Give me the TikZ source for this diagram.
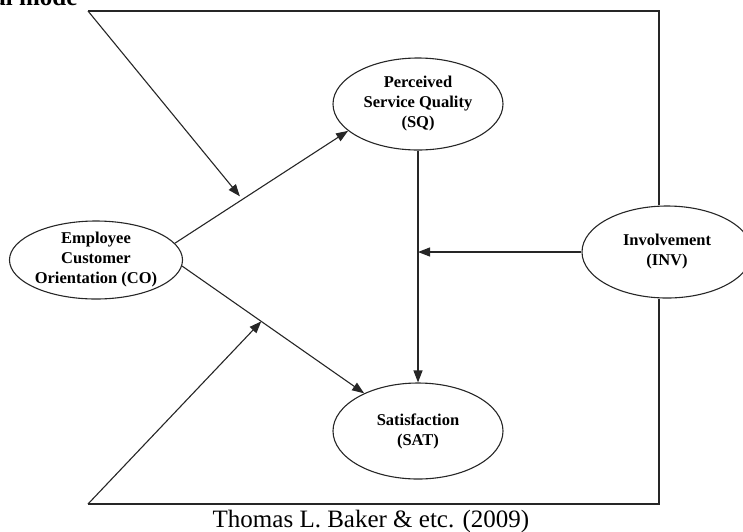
\documentclass[tikz,border=0pt]{standalone}
\usepackage{fontspec}
\setmainfont{Liberation Serif}
\usetikzlibrary{shapes.geometric, arrows.meta, calc}

\begin{document}
\begin{tikzpicture}[
  x=1pt, y=-1pt,
  construct/.style={ellipse, draw=black!85, line width=1.1pt, inner sep=0pt, align=center, font=\fontsize{16.5}{20}\selectfont\bfseries},
  arrow/.style={-{Triangle[length=12pt, width=9pt]}, line width=1.1pt, draw=black!85},
  frame/.style={line width=1.1pt, draw=black!85},
  caption/.style={font=\fontsize{25}{28}\selectfont}
]
\useasboundingbox (0,0) rectangle (743,531);

% Constructs
\node[construct, minimum width=172, minimum height=78] (co) at (96,260) {Employee\\Customer\\Orientation (CO)};
\node[construct, minimum width=170, minimum height=92] (sq) at (418,104) {Perceived\\Service Quality\\(SQ)};
\node[construct, minimum width=170, minimum height=96] (sat) at (418,431) {Satisfaction\\(SAT)};
\node[construct, minimum width=170, minimum height=92] (inv) at (667,252) {Involvement\\(INV)};

% Titles
\node[caption, font=\fontsize{25}{28}\selectfont\bfseries, anchor=base east] (title) at (81,5) {al mode};
\node[caption, anchor=base] (src) at (371,527) {Thomas L. Baker \& etc. (2009)};

% Frame corners
\coordinate (tl) at (88,11);
\coordinate (tr) at (659,11);
\coordinate (bl) at (88,504);
\coordinate (br) at (659,504);

% Main paths
\draw[arrow] (co.12) -- (sq.201);
\draw[arrow] (co.-4) -- (sat.145);
\draw[arrow] (sq.south) -- (sat.north);
\draw[arrow] (inv.west) -- (inv.west -| sq.south);

% Moderation by INV
\coordinate (m1) at ($(co.12)!0.39!(sq.201)$);
\coordinate (m2) at ($(co.-4)!0.435!(sat.145)$);
\draw[frame] (tr |- inv.north) -- (tr) -- (tl);
\draw[arrow, shorten >=4pt] (tl) -- (m1);
\draw[frame] (tr |- inv.south) -- (br) -- (bl);
\draw[arrow] (bl) -- (m2);

\end{tikzpicture}
\end{document}
